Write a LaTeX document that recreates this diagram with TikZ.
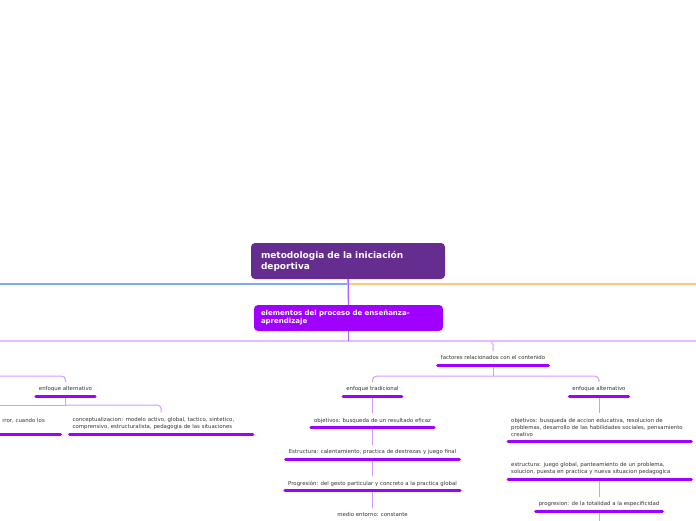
\documentclass[tikz,border=0pt]{standalone}
\usepackage{fontspec}
\setmainfont{DejaVu Sans}
\usetikzlibrary{positioning}
\definecolor{rootcol}{HTML}{662D91}
\definecolor{maincol}{HTML}{A000FF}
\definecolor{linkcol}{HTML}{B45CFF}
\definecolor{bluecol}{HTML}{7FA8F8}
\definecolor{orangecol}{HTML}{FFC77A}
\definecolor{litecol}{HTML}{E6BCFF}
\definecolor{branchcol}{HTML}{D699FF}
\definecolor{txtcol}{HTML}{333333}

\begin{document}
\begin{tikzpicture}[x=1pt,y=-1pt,
	boxRoot/.style={rectangle,rounded corners=4pt,fill=rootcol,text=white,align=left,text width=174pt,inner xsep=10pt,minimum height=36pt,font=\fontsize{9}{11}\selectfont\bfseries},
	boxMain/.style={rectangle,rounded corners=4pt,fill=maincol,text=white,align=left,text width=175pt,inner xsep=7pt,minimum height=26pt,font=\fontsize{7}{8}\selectfont\bfseries},
	leaf/.style={text=txtcol,font=\fontsize{5.4}{7}\selectfont,inner xsep=3pt,inner ysep=4.5pt},
	oneline/.style={leaf,text height=4pt,text depth=1pt},
	bar/.style={maincol,line width=3pt,line cap=round},
	branch/.style={branchcol,line width=1pt},
	lite/.style={litecol,line width=1.5pt}]
	\useasboundingbox (0,0) rectangle (696,520);

	% central topics
	\node [boxRoot]	(root)	at (348,261)	{metodologia de la iniciación\\deportiva};
	\node [boxMain]	(elem)	at (348.5,318)	{elementos del proceso de enseñanza-\\aprendizaje};

	% subtopics
	\node [oneline]	(fac)	at (493,358)	{factores relacionados con el contenido};
	\node [oneline]	(altL)	at (65.5,389)	{enfoque alternativo};
	\node [leaf,align=left,text width=177pt,anchor=south west]	(concept)	at (69.5,434)	{conceptualizacion: modelo activo, global, tactico, sintetico,\\comprensivo, estructuralista, pedagogia de las situaciones};
	\node [leaf,align=left,text width=55pt,anchor=south east]	(errL)	at (60.5,434)	{rror, cuando los\\ \mbox{}};

	\begin{scope}[node distance=31.5pt,on grid]
		\node [oneline]	(tra)	at (372.5,389)	{enfoque tradicional};
		\node [oneline]	(objT)	[below=of tra]	{objetivos: busqueda de un resultado eficaz};
		\node [oneline]	(estT)	[below=of objT]	{Estructura: calentamiento, practica de destrezas y juego final};
		\node [oneline]	(proT)	[below=of estT]	{Progresión: del gesto particular y concreto a la practica global};
		\node [oneline]	(medio)	[below=of proT]	{medio entorno: constante};
	\end{scope}

	\node [oneline]	(altR)	at (599,389)	{enfoque alternativo};
	\node [leaf,align=left,text width=177pt,anchor=south west]	(objR)	at (508,441)	{objetivos: busqueda de accion educativa, resolucion de\\problemas, desarrollo de las habilidades sociales, pensamiento\\creativo};
	\node [leaf,align=left,text width=177pt,anchor=south west]	(estR)	at (508,479)	{estructura: juego global, panteamiento de un problema,\\solucion, puesta en practica y nueva situacion pedagogica};
	\node [oneline]	(proR)	at (599,504)	{progresion: de la totalidad a la especificidad};

	% free ends
	\coordinate (bL) at (0,284);
	\coordinate (oR) at (696,284);
	\coordinate (cL) at (0,341);
	\coordinate (cR) at (696,341);
	\coordinate (aL) at (0,376);
	\coordinate (eL) at (0,405);
	\coordinate (rEnd) at (599,530);

	% connectors
	\draw [bluecol,line width=1.5pt] (root.south) |- (bL);
	\draw [orangecol,line width=1.5pt] (root.south) |- (oR);
	\draw [linkcol,line width=1.2pt] (root) -- (elem);
	\draw [lite] (elem.south |- cL) -- (cL);
	\draw [lite] (elem.south |- cR) -- (cR);
	\draw [lite,rounded corners=4pt] (elem.south |- cR) -| (fac.north);
	\draw [linkcol,line width=1.2pt] (elem.south) -- (elem.south |- cR);

	\draw [branch,rounded corners=4pt] (aL) -| (altL.north);
	\draw [branch] (altL.south) -- (altL.south |- eL) coordinate (jL) -- (eL);
	\draw [branch,rounded corners=4pt] (jL) -| (concept.north);

	\draw [branch] (fac.south) -- ++(0,11) coordinate (jF);
	\draw [branch,rounded corners=4pt] (jF) -| (tra.north);
	\draw [branch,rounded corners=4pt] (jF) -| (altR.north);

	\draw [branch] (tra) -- (objT);
	\draw [branch] (objT) -- (estT);
	\draw [branch] (estT) -- (proT);
	\draw [branch] (proT) -- (medio);
	\draw [branch] (altR.south) -- (altR.south |- objR.north);
	\draw [branch] (objR.south -| altR) -- (objR.south -| altR |- estR.north);
	\draw [branch] (estR.south -| altR) -- (proR);
	\draw [branch] (proR) -- (rEnd);

	% underlines
	\foreach \n in {fac,altL,concept,errL,tra,objT,estT,proT,medio,altR,objR,estR,proR}
		\draw [bar] (\n.south west) -- (\n.south east);
\end{tikzpicture}
\end{document}
